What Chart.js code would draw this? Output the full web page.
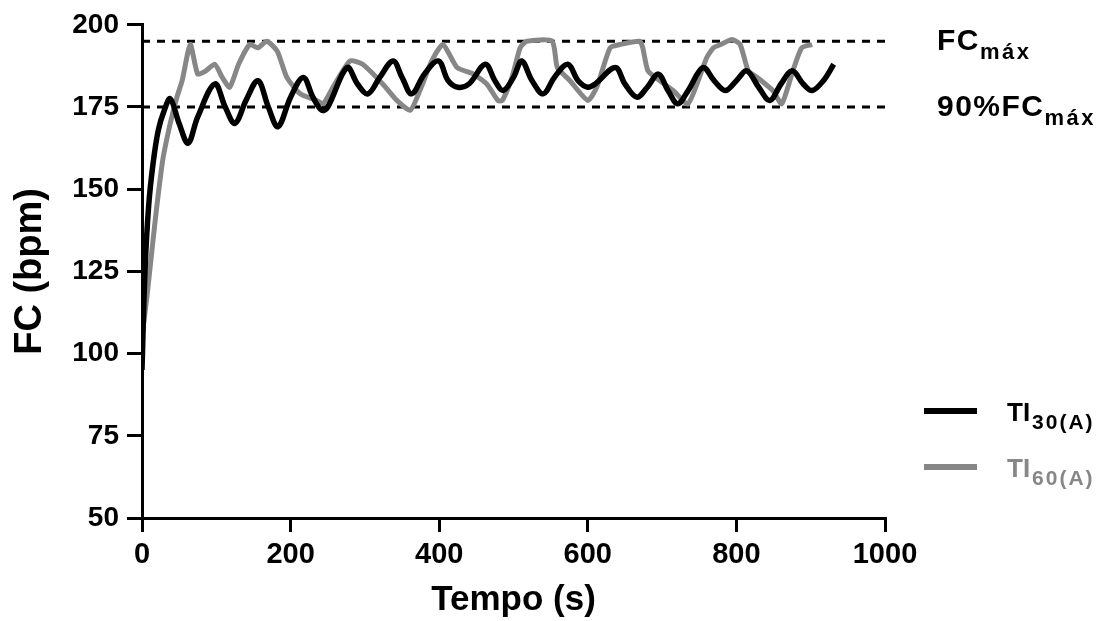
<!DOCTYPE html>
<html>
<head>
<meta charset="utf-8">
<script src="https://cdn.jsdelivr.net/npm/chart.js@4/dist/chart.umd.min.js"></script>
<style>
html,body{margin:0;padding:0;background:#fff;}
#wrap{width:1102px;height:621px;}
</style>
</head>
<body>
<div id="wrap"><canvas id="c" width="1102" height="621"></canvas></div>
<script>
// ---- data ----
const tempo30 = [0,4,9,15,22,30,38,50,62,75,98,112,125,140,156,170,183,200,217,230,242,250,276,290,304,320,338,350,363,380,399,412,425,440,462,475,486,500,511,525,540,555,573,587,600,610,637,650,666,680,695,708,721,735,755,770,785,800,814,830,845,860,875,890,902,917,931];
const fc30    = [95,125,145,158,168,174,177.5,170,164,172,182,175,170,177,183,175,169,178,184,178,174,175,187,182,179,184,189,184,179,185,189,183,181,182,188,183,180,184,189,183,179,184,188,183,181,182,187,182,178,181,185,180,176,180,187,183,180,183,186,181,177,182,186,182,180,183,188];
const tempo60 = [0,7,18,28,38,47,54,65,75,86,98,108,118,130,145,156,168,182,195,213,235,244,257,280,297,324,343,361,374,390,405,424,446,464,479,485,498,509,518,552,559,576,600,612,630,643,670,674,681,697,715,735,760,769,779,794,805,816,828,849,861,876,888,902];
const fc60    = [105,118,141,159,170,178,183,194,185,186,188,184,181,188,194,193,195,192,184,179,177,176,181,189,188,182,177,174,180,189,194,187,185,182,177,177,184,193,195,195,187,183,177,181,193,194,195,193,186,183,180,176,190,193,194,195.5,194,186,184,180,176,186,193,194];
const fcMax = 195;
const fc90  = 175;
const xTicks = [0,200,400,600,800,1000];
const yTicks = [50,75,100,125,150,175,200];
const seriesNames = ['TI', 'TI'];
const seriesSubs = ['30(A)', '60(A)'];
const refNames = ['FC', '90%FC'];
const refSub = 'máx';

const FONT = '"Liberation Sans", Arial, sans-serif';
const BLACK = '#000000';
const GRAY = '#878787';

const pts = (xs, ys) => xs.map((x, i) => ({x: x, y: ys[i]}));

const textPlugin = {
  id: 'texts',
  afterDraw(chart) {
    const ctx = chart.ctx;
    const yScale = chart.scales.y;
    ctx.save();
    ctx.textBaseline = 'alphabetic';
    ctx.textAlign = 'left';
    // reference-line labels
    const refVals = [fcMax, fc90];
    refVals.forEach((v, i) => {
      const base = yScale.getPixelForValue(v) + 9;
      ctx.fillStyle = BLACK;
      ctx.font = 'bold 30px ' + FONT;
      ctx.letterSpacing = '1.5px';
      ctx.fillText(refNames[i], 937, base);
      const w = ctx.measureText(refNames[i]).width;
      ctx.font = 'bold 22px ' + FONT;
      ctx.letterSpacing = '2.5px';
      ctx.fillText(refSub, 937 + w, base + 9);
    });
    // legend
    const colors = [BLACK, GRAY];
    const ly = [411, 467];
    colors.forEach((col, i) => {
      ctx.strokeStyle = col;
      ctx.lineWidth = 6;
      ctx.beginPath();
      ctx.moveTo(924, ly[i]);
      ctx.lineTo(977, ly[i]);
      ctx.stroke();
      ctx.fillStyle = col;
      ctx.font = 'bold 26px ' + FONT;
      ctx.letterSpacing = '0px';
      ctx.fillText(seriesNames[i], 1007, ly[i] + 10);
      const w = ctx.measureText(seriesNames[i]).width;
      ctx.font = 'bold 21px ' + FONT;
      ctx.letterSpacing = '2px';
      ctx.fillText(seriesSubs[i], 1007 + w + 2, ly[i] + 18);
    });
    ctx.restore();
  }
};

new Chart(document.getElementById('c'), {
  type: 'line',
  data: {
    datasets: [
      {label: 'TI30(A)', data: pts(tempo30, fc30), borderColor: BLACK, borderWidth: 5.5, pointRadius: 0, tension: 0.35, order: 0, fill: false},
      {label: 'TI60(A)', data: pts(tempo60, fc60), borderColor: GRAY, borderWidth: 5, pointRadius: 0, tension: 0.2, order: 1, fill: false},
      {label: 'FCmax', data: [{x: 0, y: fcMax}, {x: 1000, y: fcMax}], borderColor: BLACK, borderWidth: 3, borderDash: [8, 7], pointRadius: 0, order: 2},
      {label: 'FC90', data: [{x: 0, y: fc90}, {x: 1000, y: fc90}], borderColor: BLACK, borderWidth: 3, borderDash: [8, 7], pointRadius: 0, order: 3}
    ]
  },
  options: {
    responsive: false,
    animation: false,
    devicePixelRatio: 1,
    layout: {padding: {left: 0, right: 217, top: 23, bottom: 0}},
    plugins: {legend: {display: false}, tooltip: {enabled: false}},
    scales: {
      x: {
        type: 'linear', min: 0, max: 1000,
        afterBuildTicks: s => { s.ticks = xTicks.map(v => ({value: v})); },
        afterFit: s => { s.height = 103; },
        grid: {drawOnChartArea: false, drawTicks: true, tickLength: 14, color: BLACK, lineWidth: 3},
        border: {display: true, color: BLACK, width: 3},
        ticks: {color: BLACK, font: {family: FONT, size: 29, weight: 'bold'}, padding: 6, maxRotation: 0, callback: v => String(v)},
        title: {display: true, text: 'Tempo (s)', color: BLACK, font: {family: FONT, size: 35, weight: 'bold'}, padding: {top: 0, bottom: 0}}
      },
      y: {
        type: 'linear', min: 50, max: 200,
        afterBuildTicks: s => { s.ticks = yTicks.map(v => ({value: v})); },
        afterFit: s => { s.width = 142; },
        grid: {drawOnChartArea: false, drawTicks: true, tickLength: 15, color: BLACK, lineWidth: 3},
        border: {display: true, color: BLACK, width: 3},
        ticks: {color: BLACK, font: {family: FONT, size: 28, weight: 'bold'}, padding: 8, callback: v => String(v)},
        title: {display: true, text: 'FC (bpm)', color: BLACK, font: {family: FONT, size: 38, weight: 'bold'}, padding: {top: 8, bottom: 0}}
      }
    }
  },
  plugins: [textPlugin]
});
</script>
</body>
</html>
